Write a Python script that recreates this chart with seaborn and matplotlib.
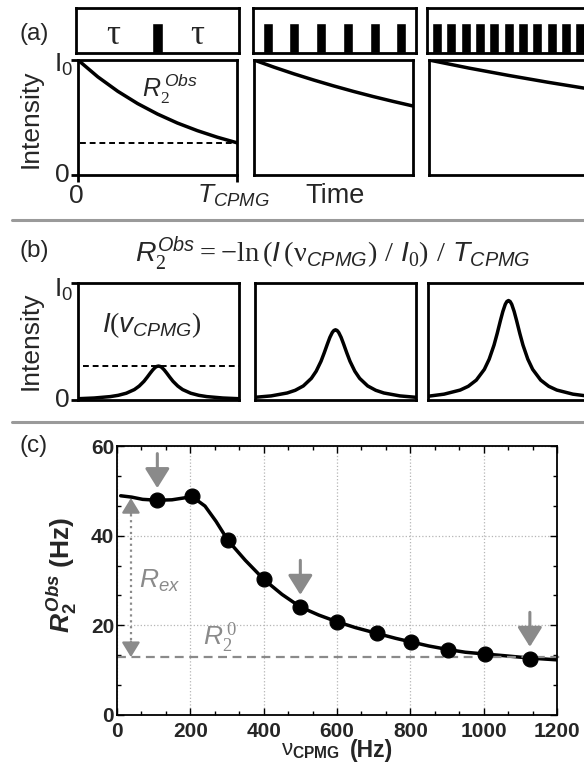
import matplotlib
matplotlib.use("Agg")
import matplotlib.pyplot as plt
import seaborn as sns
from matplotlib.lines import Line2D
from matplotlib.ticker import AutoMinorLocator

# (a) pulse trains: pulse centres as fraction of T_CPMG
pulses_slow = [0.5]
pulses_mid = [0.09, 0.254, 0.418, 0.582, 0.746, 0.91]
pulses_fast = [0.061, 0.149, 0.237, 0.325, 0.413, 0.501, 0.589, 0.677, 0.765, 0.853, 0.941]
pulse_height = 0.67
pulse_width = 0.062

# (a) decay of intensity over the CPMG block (fraction of I0)
t_decay = [0, 0.125, 0.25, 0.375, 0.5, 0.625, 0.75, 0.875, 1.0]
decay_slow = [1.0, 0.853, 0.728, 0.621, 0.53, 0.452, 0.386, 0.329, 0.28]
decay_mid = [1.0, 0.938, 0.88, 0.826, 0.775, 0.727, 0.682, 0.64, 0.6]
decay_fast = [1.0, 0.965, 0.93, 0.898, 0.866, 0.836, 0.806, 0.778, 0.75]

# (b) peak line shapes
freq = [0.0, 0.1, 0.2, 0.25, 0.3, 0.35, 0.38, 0.41, 0.43, 0.45, 0.465, 0.48, 0.49, 0.5,
        0.51, 0.52, 0.535, 0.55, 0.57, 0.59, 0.62, 0.65, 0.7, 0.75, 0.8, 0.9, 1.0]
peak_slow = [0.011, 0.017, 0.029, 0.040, 0.058, 0.089, 0.119, 0.160, 0.195, 0.232,
             0.258, 0.279, 0.287, 0.29, 0.287, 0.279, 0.258, 0.232, 0.195, 0.160,
             0.119, 0.089, 0.058, 0.040, 0.029, 0.017, 0.011]
peak_mid = [0.023, 0.035, 0.06, 0.083, 0.12, 0.185, 0.246, 0.331, 0.403, 0.48,
            0.535, 0.577, 0.594, 0.6, 0.594, 0.577, 0.535, 0.48, 0.403, 0.331,
            0.246, 0.185, 0.12, 0.083, 0.06, 0.035, 0.023]
peak_fast = [0.032, 0.05, 0.085, 0.117, 0.17, 0.262, 0.349, 0.469, 0.570, 0.68,
             0.757, 0.818, 0.842, 0.85, 0.842, 0.818, 0.757, 0.68, 0.570, 0.469,
             0.349, 0.262, 0.17, 0.117, 0.085, 0.05, 0.032]

# (c) relaxation dispersion
nu_cpmg = [110, 205, 303, 401, 500, 600, 709, 802, 903, 1004, 1126]
r2_obs = [48.0, 48.8, 39.0, 30.3, 24.2, 20.8, 18.2, 16.2, 14.4, 13.6, 12.6]
fit_x = [10, 40, 70, 110, 150, 205, 240, 270, 303, 350, 401, 450, 500, 550,
         600, 650, 709, 760, 802, 850, 903, 950, 1004, 1060, 1126, 1200]
fit_y = [48.9, 48.6, 48.1, 47.9, 48.0, 48.7, 46.6, 43.2, 38.9, 34.5, 30.2, 26.9,
         24.1, 22.3, 20.8, 19.5, 18.2, 17.1, 16.3, 15.4, 14.6, 14.0, 13.6, 13.2,
         12.7, 12.3]
r2_zero = 12.9
r2_plateau = 48.4
rex_x = 38
arrow_idx = [0, 4, 10]
x_ticks = [0, 200, 400, 600, 800, 1000, 1200]
y_ticks = [0, 20, 40, 60]

GREY = "#8a8a8a"

sns.set_theme(style="white")
plt.rcParams["font.family"] = ["Liberation Sans", "DejaVu Sans"]
plt.rcParams.update({
    "mathtext.fontset": "custom",
    "mathtext.rm": "Liberation Serif",
    "mathtext.sf": "Liberation Sans",
    "mathtext.it": "Liberation Sans:italic",
    "mathtext.bf": "Liberation Sans:bold",
    "mathtext.bfit": "Liberation Sans:bold:italic",
})

W, H = 584, 766
fig = plt.figure(figsize=(W / 100, H / 100), dpi=100)


def rect(x0, y0, x1, y1):
    return [x0 / W, 1 - y1 / H, (x1 - x0) / W, (y1 - y0) / H]


def ftext(x, y, s, **kw):
    fig.text(x / W, 1 - y / H, s, **kw)


def frame(ax, lw=2):
    ax.set_xlim(0, 1)
    ax.set_ylim(0, 1)
    ax.set_xticks([])
    ax.set_yticks([])
    ax.set_facecolor("white")
    for sp in ax.spines.values():
        sp.set_visible(True)
        sp.set_color("black")
        sp.set_linewidth(lw)


def edge_ticks(ax, xt=True):
    ax.set_yticks([0, 1])
    ax.set_yticklabels([])
    if xt:
        ax.set_xticks([0, 1])
        ax.set_xticklabels([])
    ax.tick_params(direction="out", length=5, width=2, color="black",
                   left=True, bottom=xt)


# ---- (a) pulse sequences ----
pulse_cols = [(76, 239), (253, 416), (427, 590)]
for (x0, x1), pos in zip(pulse_cols, [pulses_slow, pulses_mid, pulses_fast]):
    ax = fig.add_axes(rect(x0, 8, x1, 53))
    frame(ax)
    ax.bar(pos, [pulse_height] * len(pos), width=pulse_width, color="black",
           align="center")
    if pos is pulses_slow:
        for tx in (0.227, 0.742):
            ax.text(tx, 0.2, "τ", ha="center", va="baseline", fontsize=25,
                    family="Liberation Serif", transform=ax.transAxes)

# ---- (a) decays ----
decay_cols = [(78, 237), (254, 413), (429, 588)]
for (x0, x1), dec in zip(decay_cols, [decay_slow, decay_mid, decay_fast]):
    ax = fig.add_axes(rect(x0, 60, x1, 175))
    frame(ax)
    sns.lineplot(x=t_decay, y=dec, ax=ax, color="black", lw=2.5)
    ax.set_xlim(0, 1)
    ax.set_ylim(0, 1)
    if dec is decay_slow:
        edge_ticks(ax)
        ax.axhline(decay_slow[-1], xmin=0.01, xmax=1, color="black", lw=1.4,
                   dashes=(3, 2))
        ax.text(0.40, 0.68, r"$R_\mathit{2}^{\,Obs}$", fontsize=18,
                transform=ax.transAxes, va="baseline")
        ax.text(-0.03, 0.896, r"$\mathsf{I_0}$", fontsize=19, ha="right",
                va="baseline", transform=ax.transAxes)
        ax.text(-0.05, 0.0, "0", fontsize=19, ha="right", va="center",
                transform=ax.transAxes)
        ax.text(-0.01, -0.243, "0", fontsize=19, ha="center", va="baseline",
                transform=ax.transAxes)
        ax.text(0.748, -0.243, r"$T_{CPMG}$", fontsize=19, ha="left",
                va="baseline", transform=ax.transAxes)

ftext(34, 34, "(a)", fontsize=17.5, ha="center", va="center")
ftext(31, 119, "Intensity", fontsize=19, rotation=90, ha="center", va="center")
ftext(335, 196, "Time", fontsize=19.5, ha="center", va="center")

# ---- (b) line shapes ----
peak_cols = [(78, 239), (255, 416), (428, 589)]
for (x0, x1), pk in zip(peak_cols, [peak_slow, peak_mid, peak_fast]):
    ax = fig.add_axes(rect(x0, 283, x1, 400))
    frame(ax)
    sns.lineplot(x=freq, y=pk, ax=ax, color="black", lw=2.5)
    ax.set_xlim(0, 1)
    ax.set_ylim(0, 1)
    if pk is peak_slow:
        edge_ticks(ax, xt=False)
        ax.axhline(max(peak_slow), xmin=0.03, xmax=1, color="black", lw=1.4,
                   dashes=(3, 2))
        ax.text(0.15, 0.58, r"$I\mathit{(v}_{CPMG}\mathit{)}$", fontsize=20,
                transform=ax.transAxes, va="baseline")
        ax.text(-0.03, 0.88, r"$\mathsf{I_0}$", fontsize=19, ha="right",
                va="baseline", transform=ax.transAxes)
        ax.text(-0.05, 0.0, "0", fontsize=19, ha="right", va="center",
                transform=ax.transAxes)

ftext(34, 251, "(b)", fontsize=17.5, ha="center", va="center")
ftext(31, 341, "Intensity", fontsize=19, rotation=90, ha="center", va="center")
ftext(333, 261,
      r"$R_2^{Obs} = -\mathrm{ln}\,(I\,(\mathrm{\nu}_{CPMG})\ /\ I_0)\ /\ T_{CPMG}$",
      fontsize=20.5, ha="center", va="baseline")

# ---- (c) dispersion curve ----
ax = fig.add_axes(rect(117, 446, 557, 715))
ax.set_facecolor("white")
sns.lineplot(x=fit_x, y=fit_y, ax=ax, color="black", lw=2.5)
sns.scatterplot(x=nu_cpmg, y=r2_obs, ax=ax, color="black", s=115,
                edgecolor="black", zorder=3)
ax.plot([0, 1212], [r2_zero, r2_zero], color=GREY, lw=1.6, dashes=(4, 2.5),
        clip_on=False, zorder=2)
ax.plot([rex_x, rex_x], [r2_zero + 2.5, r2_plateau - 2.5], color=GREY, lw=1.6,
        ls=":", zorder=2)
head = dict(arrowstyle="-|>,head_length=0.9,head_width=0.55", color=GREY, lw=1.6,
            mutation_scale=10, shrinkA=0, shrinkB=0)
ax.annotate("", xy=(rex_x, r2_plateau), xytext=(rex_x, r2_plateau - 3.5),
            arrowprops=head)
ax.annotate("", xy=(rex_x, r2_zero), xytext=(rex_x, r2_zero + 3.5),
            arrowprops=head)
down = dict(arrowstyle="-|>,head_length=1.2,head_width=0.75", color=GREY, lw=2.2,
            mutation_scale=10, shrinkA=0, shrinkB=0)
for i in arrow_idx:
    ax.annotate("", xy=(nu_cpmg[i], r2_obs[i] + 2.6),
                xytext=(nu_cpmg[i], r2_obs[i] + 10.3), arrowprops=down)
ax.text(60, 28.3, r"$R_{ex}$", color=GREY, fontsize=19, va="baseline")
ax.text(235, 15.6, r"$R_\mathit{2}^{\,\mathit{0}}$", color=GREY, fontsize=19,
        va="baseline")

ax.set_xlim(0, 1200)
ax.set_ylim(0, 60)
ax.set_xticks(x_ticks)
ax.set_xticklabels([str(v) for v in x_ticks], fontweight="bold", fontsize=15)
ax.set_yticks(y_ticks)
ax.set_yticklabels([str(v) for v in y_ticks], fontweight="bold", fontsize=15)
ax.xaxis.set_minor_locator(AutoMinorLocator(3))
ax.yaxis.set_minor_locator(AutoMinorLocator(3))
ax.tick_params(which="both", direction="in", top=True, right=True, bottom=True,
               left=True, color="black", width=1)
ax.tick_params(which="major", length=5)
ax.tick_params(which="minor", length=3)
ax.tick_params(axis="x", pad=5)
ax.tick_params(axis="y", pad=2)
ax.grid(True, which="major", ls=":", color="#b5b5b5", lw=0.9)
for sp in ax.spines.values():
    sp.set_visible(True)
    sp.set_color("black")
    sp.set_linewidth(1.3)
ax.set_xlabel("")
ax.set_ylabel("")

ftext(34, 446, "(c)", fontsize=17.5, ha="center", va="center")
ftext(62, 575, r"$\mathbfit{R}_\mathbf{2}^{\,\mathbfit{Obs}}$ (Hz)", fontsize=19,
      fontweight="bold", rotation=90, ha="center", va="center")
ftext(281, 755, r"$\mathsf{\nu}_{\mathbf{CPMG}}$", fontsize=16,
      ha="left", va="baseline")
ftext(350, 757, "(Hz)", fontsize=16.5, fontweight="bold", ha="left",
      va="baseline")

# grey separators between panels
for ysep in (220, 422):
    fig.add_artist(Line2D([12 / W, 1], [1 - ysep / H] * 2, color="#9a9a9a",
                          lw=2.2))

fig.savefig("out.png", dpi=100)
